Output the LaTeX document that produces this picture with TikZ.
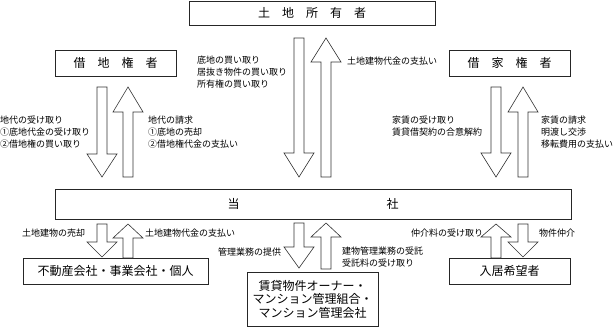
\documentclass[tikz,border=0pt]{standalone}
\usepackage{fontspec}
\setmainfont{Noto Sans CJK JP}
\newcommand\blockarr[4]{%
  \draw[barrow] ({#1-5},#2) -- ({#1+5},#2) -- ({#1+5},#3) -- ({#1+15},#3)
    -- (#1,#4) -- ({#1-15},#3) -- ({#1-5},#3) -- cycle;}
\begin{document}
\begin{tikzpicture}[x=1pt,y=-1pt,
  box/.style={draw=black!85, line width=0.7pt, fill=white, inner sep=0pt,
    font=\fontsize{12}{13.5}\selectfont, align=center},
  lbl/.style={inner sep=0pt, align=left, anchor=west,
    font=\fontsize{9}{12}\selectfont},
  barrow/.style={draw=black!80, fill=white, line width=0.6pt, line join=miter}]
\useasboundingbox (0,0) rectangle (615,328);
% boxes
\node[box, minimum width=246pt, minimum height=24pt] (owner) at (312,13) {土　地　所　有　者};
\node[box, minimum width=121pt, minimum height=26pt] (lessee) at (115.5,63) {借　地　権　者};
\node[box, minimum width=121pt, minimum height=26pt] (tenant) at (509.5,63) {借　家　権　者};
\node[box, minimum width=516pt, minimum height=30pt] (company) at (313,204) {当\hspace{147pt}社};
\node[box, minimum width=185pt, minimum height=26pt] (buyers) at (115.5,271) {不動産会社・事業会社・個人};
\node[box, minimum width=131pt, minimum height=54pt] (rentowner) at (312.5,299) {賃貸物件オーナー・\\マンション管理組合・\\マンション管理会社};
\node[box, minimum width=121pt, minimum height=26pt] (applicant) at (509.5,271) {入居希望者};
% top arrows
\blockarr{102}{87}{154}{177}
\blockarr{128}{177}{112}{87}
\blockarr{299}{38}{153}{177}
\blockarr{326}{177}{62}{38}
\blockarr{496}{87}{153}{177}
\blockarr{523}{177}{112}{87}
% bottom arrows
\blockarr{102}{224}{242}{257}
\blockarr{128}{258}{238}{224}
\blockarr{299}{223}{247}{268}
\blockarr{326}{269}{237}{223}
\blockarr{496}{258}{237}{224}
\blockarr{523}{224}{242}{257}
% labels
\node[lbl] (l1) at (197,72) {底地の買い取り\\居抜き物件の買い取り\\所有権の買い取り};
\node[lbl] (l2) at (347,61) {土地建物代金の支払い};
\node[lbl] (l3) at (0,132) {地代の受け取り\\①底地代金の受け取り\\②借地権の買い取り};
\node[lbl] (l4) at (148,132) {地代の請求\\①底地の売却\\②借地権代金の支払い};
\node[lbl] (l5) at (392,126) {家賃の受け取り\\賃貸借契約の合意解約};
\node[lbl] (l6) at (541,132) {家賃の請求\\明渡し交渉\\移転費用の支払い};
\node[lbl] (l7) at (22,233) {土地建物の売却};
\node[lbl] (l8) at (145,233) {土地建物代金の支払い};
\node[lbl] (l9) at (218,252) {管理業務の提供};
\node[lbl] (l10) at (342,257) {建物管理業務の受託\\受託料の受け取り};
\node[lbl] (l11) at (411,233) {仲介料の受け取り};
\node[lbl] (l12) at (539,233) {物件仲介};
\end{tikzpicture}
\end{document}
